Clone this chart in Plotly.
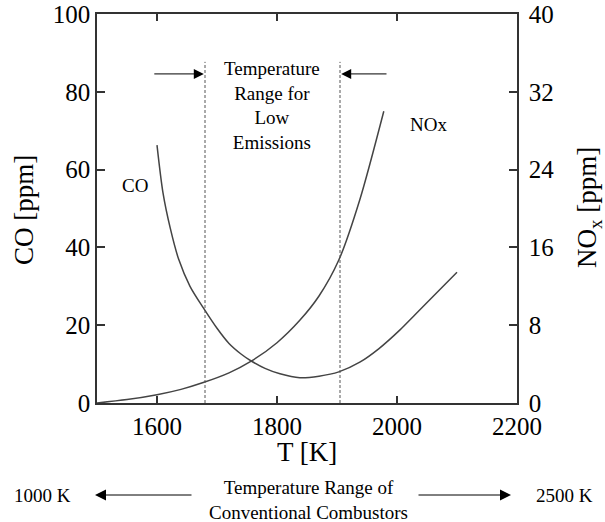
import plotly.graph_objects as go

# ---- data ----
co_T = [1600, 1610, 1622, 1636, 1655, 1677, 1700, 1720, 1740, 1757, 1780, 1805, 1838, 1870, 1903,
        1938, 1970, 2005, 2030, 2060, 2100]
co_ppm = [66.3, 54.0, 45.0, 37.0, 30.0, 24.5, 19.2, 15.3, 12.6, 10.8, 8.9, 7.5, 6.5, 6.9, 8.0,
          10.5, 14.0, 18.8, 22.7, 27.4, 33.6]

nox_T = [1500, 1550, 1600, 1640, 1677, 1720, 1757, 1800, 1838, 1870, 1903, 1938, 1978]
nox_ppm = [0.0, 0.35, 0.85, 1.4, 2.1, 3.1, 4.3, 6.2, 8.5, 11.0, 14.7, 20.9, 30.0]

low_emission_range = [1680, 1905]     # K, dashed bounds
x_ticks = [1600, 1800, 2000, 2200]
co_ticks = [0, 20, 40, 60, 80, 100]
nox_ticks = [0, 8, 16, 24, 32, 40]

FONT = "Liberation Serif"
LINE = "#444444"
AX = "#333333"

# plot-area pixel geometry (for placing texts outside the plot)
L, R, T, B = 97, 517, 14, 403
W, H = 605, 522
def xp(px):
    return (px - L) / (R - L)
def yp(py):
    return (B - py) / (B - T)

fig = go.Figure()
fig.add_trace(go.Scatter(x=co_T, y=co_ppm, mode="lines", line=dict(color=LINE, width=1.5, shape="spline", smoothing=0.8),
                         showlegend=False, hoverinfo="skip"))
fig.add_trace(go.Scatter(x=nox_T, y=nox_ppm, mode="lines", yaxis="y2",
                         line=dict(color=LINE, width=1.5, shape="spline", smoothing=0.8),
                         showlegend=False, hoverinfo="skip"))

shapes = []
for xv in low_emission_range:
    shapes.append(dict(type="line", xref="x", yref="y", x0=xv, x1=xv, y0=0, y1=87.7,
                       line=dict(color="#555555", width=1, dash="3px,2px")))

ann = []
tf = dict(family=FONT, color="black")
C = dict(xanchor="center", yanchor="middle")
# curve labels
ann.append(dict(x=1563, y=56, xref="x", yref="y", text="CO", showarrow=False,
                font=dict(size=19, **tf), **C))
ann.append(dict(x=2018, y=71.5, xref="x", yref="y", text="NOx", showarrow=False, xanchor="left",
                yanchor="middle", font=dict(size=19, **tf)))
ann.append(dict(x=1792, y=76.5, xref="x", yref="y", text="Temperature<br>Range for<br>Low<br>Emissions",
                showarrow=False, font=dict(size=19, **tf), align="center", **C))
# range arrows
ann.append(dict(x=low_emission_range[0] - 2, y=84.6, xref="x", yref="y", ax=1593, ay=84.6, axref="x", ayref="y",
                text="", showarrow=True, arrowhead=2, arrowsize=2.0, arrowwidth=1, arrowcolor="black"))
ann.append(dict(x=low_emission_range[1] + 2, y=84.6, xref="x", yref="y", ax=1985, ay=84.6, axref="x", ayref="y",
                text="", showarrow=True, arrowhead=2, arrowsize=2.0, arrowwidth=1, arrowcolor="black"))
# axis titles
ann.append(dict(x=xp(24), y=yp(210), xref="paper", yref="paper", text="CO [ppm]", textangle=-90,
                showarrow=False, font=dict(size=27, **tf), **C))
ann.append(dict(x=xp(589), y=yp(208), xref="paper", yref="paper", text="NO<sub>x</sub> [ppm]", textangle=-90,
                showarrow=False, font=dict(size=27, **tf), **C))
ann.append(dict(x=xp(307), y=yp(452), xref="paper", yref="paper", text="T [K]",
                showarrow=False, font=dict(size=27, **tf), **C))
# conventional combustor range
ann.append(dict(x=xp(308), y=yp(499.5), xref="paper", yref="paper",
                text="Temperature Range of<br>Conventional Combustors",
                showarrow=False, font=dict(size=19, **tf), align="center", **C))
ann.append(dict(x=xp(42), y=yp(495), xref="paper", yref="paper", text="1000 K",
                showarrow=False, font=dict(size=19, **tf), **C))
ann.append(dict(x=xp(564), y=yp(495), xref="paper", yref="paper", text="2500 K",
                showarrow=False, font=dict(size=19, **tf), **C))
ann.append(dict(x=xp(95), y=yp(495), xref="paper", yref="paper", ax=193 - 95, ay=0,
                text="", showarrow=True, arrowhead=2, arrowsize=2.2,
                arrowwidth=1, arrowcolor="black"))
ann.append(dict(x=xp(511), y=yp(495), xref="paper", yref="paper", ax=417 - 511, ay=0,
                text="", showarrow=True, arrowhead=2, arrowsize=2.2,
                arrowwidth=1, arrowcolor="black"))

fig.update_layout(
    width=W, height=H,
    margin=dict(l=L, r=W - R, t=T, b=H - B, autoexpand=False),
    paper_bgcolor="white", plot_bgcolor="white",
    font=dict(family=FONT, color="black"),
    shapes=shapes, annotations=ann,
    xaxis=dict(range=[1500, 2200], tickvals=x_ticks, ticks="inside", ticklen=7, tickwidth=1.5,
               tickcolor=AX, showline=True, linecolor=AX, linewidth=1.5, mirror="ticks",
               showgrid=False, zeroline=False, tickfont=dict(size=25, family=FONT, color="black"),
               ticklabelstandoff=0, automargin=False),
    yaxis=dict(range=[0, 100], tickvals=co_ticks, ticks="inside", ticklen=8, tickwidth=1.5,
               tickcolor=AX, showline=True, linecolor=AX, linewidth=1.5,
               showgrid=False, zeroline=False, tickfont=dict(size=25, family=FONT, color="black"),
               ticklabelstandoff=0, automargin=False),
    yaxis2=dict(range=[0, 40], tickvals=nox_ticks, ticks="inside", ticklen=8, tickwidth=1.5,
                tickcolor=AX, showline=True, linecolor=AX, linewidth=1.5, overlaying="y", side="right",
                showgrid=False, zeroline=False, tickfont=dict(size=25, family=FONT, color="black"),
                ticklabelstandoff=5, automargin=False),
)

fig.write_html("out.html")
